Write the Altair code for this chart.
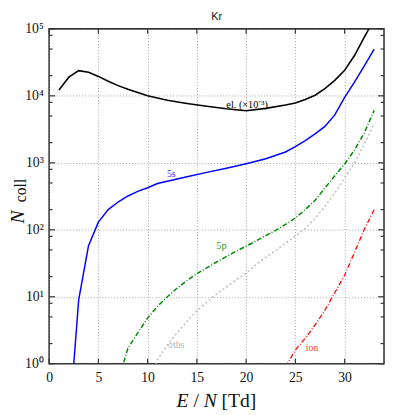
import altair as alt
import pandas as pd

# ---- data ----
E_el = [1, 2, 3, 4, 5, 6, 7, 8, 9, 10, 12, 14, 16, 18, 20, 22, 24, 25, 26, 27, 28, 29, 30, 31, 32, 33]
N_el = [12200, 19000, 23800, 22500, 19500, 16500, 14200, 12500, 11200, 10000, 8600, 7700, 7000, 6400,
        6000, 6500, 7300, 7800, 8800, 10200, 12800, 17000, 24000, 40000, 75000, 140000]

E_5s = [2, 3, 4, 5, 6, 7, 8, 9, 10, 11, 12, 14, 16, 18, 20, 22, 24, 25, 26, 27, 28, 29, 30, 31, 32, 33]
N_5s = [0.11, 9, 58, 130, 200, 260, 320, 375, 425, 490, 530, 620, 720, 830, 970, 1150, 1450, 1750,
        2150, 2700, 3500, 5200, 9500, 16000, 28000, 50000]

E_5p = [7, 8, 9, 10, 11, 12, 13, 14, 15, 16, 17, 18, 19, 20, 21, 22, 23, 24, 25, 26, 27, 28, 29, 30, 31, 32, 33]
N_5p = [0.55, 1.7, 2.9, 4.8, 7.2, 10, 13.5, 17.5, 22, 27, 33, 40, 48, 57, 68, 82, 98, 120, 150, 200,
        275, 420, 640, 960, 1550, 2800, 6070]

E_oth = [10, 11, 12, 13, 14, 15, 16, 17, 18, 19, 20, 21, 22, 23, 24, 25, 26, 27, 28, 29, 30, 31, 32, 33]
N_oth = [0.3, 1.15, 1.9, 2.9, 4.3, 6.2, 8.3, 11, 14, 18, 22.5, 30, 39, 49, 63, 81, 105, 148, 224, 355,
         600, 1000, 1900, 3870]

E_ion = [24, 25, 26, 27, 28, 29, 30, 31, 32, 33]
N_ion = [0.9, 1.6, 2.4, 3.8, 6.3, 11.5, 21, 46, 102, 200]

x_ticks = [0, 5, 10, 15, 20, 25, 30]
y_major = [1, 10, 100, 1000, 10000, 100000]
y_minor = [m * d for d in [1, 10, 100, 1000, 10000] for m in (2, 5, 8)]

labels = ["el. (×10⁻³)", "5s", "5p", "oths", "ion"]
label_E = [20.1, 12.4, 17.5, 12.9, 26.7]
label_N = [6600, 604, 52, 1.74, 1.57]

W, H = 342, 342
SERIF = "Liberation Serif, Times New Roman, serif"

x_scale = alt.Scale(domain=[0, 34], nice=False, zero=False)
y_scale = alt.Scale(type="log", domain=[1, 100000], nice=False)

x_axis = alt.Axis(values=x_ticks, grid=True, gridDash=[1, 2], gridColor="#8a8a8a", gridWidth=0.8,
                  ticks=False, domain=False, labelFont=SERIF, labelFontSize=14, labelColor="#111",
                  labelPadding=7, title=None, labelFlush=False)
y_axis = alt.Axis(values=y_major, grid=True, gridDash=[1, 2], gridColor="#8a8a8a", gridWidth=0.8,
                  ticks=False, domain=False, labelFont=SERIF, labelFontSize=14, labelColor="#111",
                  labelPadding=6, title=None, labelFlush=False,
                  labelExpr="datum.value < 5 ? '10⁰' : datum.value < 50 ? '10¹' : datum.value < 500 ? '10²' : "
                            "datum.value < 5000 ? '10³' : datum.value < 50000 ? '10⁴' : '10⁵'")

X = alt.X("E:Q", scale=x_scale, axis=x_axis)
Y = alt.Y("N:Q", scale=y_scale, axis=y_axis)


def line(E, N, color, width, dash=None):
    df = pd.DataFrame({"E": E, "N": N})
    kw = dict(color=color, strokeWidth=width, clip=True)
    if dash:
        kw["strokeDash"] = dash
    return alt.Chart(df).mark_line(**kw).encode(x=X, y=Y)


layers = [
    line(E_oth, N_oth, "#bdbdbd", 1.5, [2, 2.5]),
    line(E_ion, N_ion, "#ff0000", 1.3, [5, 2, 1, 2]),
    line(E_5p, N_5p, "#008a00", 1.5, [5, 2, 1, 2]),
    line(E_5s, N_5s, "#0000ff", 1.5),
    line(E_el, N_el, "#000000", 1.6),
]

# tick marks drawn inside the frame
xt = pd.DataFrame({"E": x_ticks})
ymaj = pd.DataFrame({"N": y_major})
ymin = pd.DataFrame({"N": y_minor})
tick_style = dict(color="#333", strokeWidth=1.2)
layers += [
    alt.Chart(xt).mark_rule(**tick_style).encode(x=X, y=alt.value(H), y2=alt.value(H - 5)),
    alt.Chart(xt).mark_rule(**tick_style).encode(x=X, y=alt.value(0), y2=alt.value(5)),
    alt.Chart(ymaj).mark_rule(**tick_style).encode(y=Y, x=alt.value(0), x2=alt.value(6)),
    alt.Chart(ymaj).mark_rule(**tick_style).encode(y=Y, x=alt.value(W), x2=alt.value(W - 6)),
    alt.Chart(ymin).mark_rule(**tick_style).encode(y=Y, x=alt.value(0), x2=alt.value(3.5)),
    alt.Chart(ymin).mark_rule(**tick_style).encode(y=Y, x=alt.value(W), x2=alt.value(W - 3.5)),
]

# curve labels
label_colors = ["#000000", "#3a3aff", "#229922", "#b5b5b5", "#ff3a3a"]
label_sizes = [10.5, 10, 10.5, 10, 10]
for t, e, n, c, s in zip(labels, label_E, label_N, label_colors, label_sizes):
    df = pd.DataFrame({"E": [e], "N": [n], "t": [t]})
    layers.append(alt.Chart(df).mark_text(font=SERIF, fontSize=s, color=c, align="center",
                                          baseline="alphabetic").encode(x=X, y=Y, text="t:N"))

# titles as text
one = pd.DataFrame({"a": [0]})
layers.append(alt.Chart(one).mark_text(text="Kr", font="Liberation Sans", fontSize=11, align="center",
                                       baseline="alphabetic", color="#111")
              .encode(x=alt.value(W / 2), y=alt.value(-9)))
# y title: N_coll rotated
layers.append(alt.Chart(one).mark_text(text="N", font=SERIF, fontSize=20, fontStyle="italic",
                                       angle=270, align="center", baseline="alphabetic", color="#111")
              .encode(x=alt.value(-26), y=alt.value(192)))
layers.append(alt.Chart(one).mark_text(text="coll", font=SERIF, fontSize=16, angle=270,
                                       align="center", baseline="alphabetic", color="#111")
              .encode(x=alt.value(-24), y=alt.value(165)))
# x title: E / N [Td]
xt_parts = [("E", "italic", 130), ("/", "normal", 147.5), ("N", "italic", 158), ("[Td]", "normal", 176)]
for txt, style, px in xt_parts:
    layers.append(alt.Chart(one).mark_text(text=txt, font=SERIF, fontSize=20, fontStyle=style,
                                           align="left", baseline="alphabetic", color="#111")
                  .encode(x=alt.value(px), y=alt.value(386)))

chart = alt.layer(*layers).properties(
    width=W, height=H,
    padding={"left": 42, "top": 17, "right": 1, "bottom": 47},
    autosize=alt.AutoSizeParams(type="none"),
).configure_view(stroke="#333", strokeWidth=1.6)

chart.save("out.html", embed_options={"renderer": "svg", "actions": False})
